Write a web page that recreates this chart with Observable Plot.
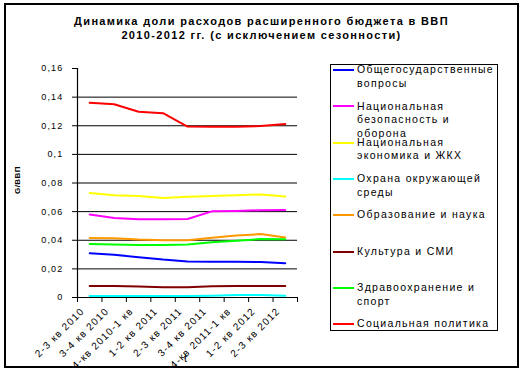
<!DOCTYPE html>
<html><head><meta charset="utf-8">
<script src="https://cdn.jsdelivr.net/npm/d3@7"></script>
<script src="https://cdn.jsdelivr.net/npm/@observablehq/plot@0.6"></script>
<style>
body{margin:0;background:#fff;}
#wrap{position:relative;width:523px;height:371px;overflow:hidden;font-family:"Liberation Sans",Arial,sans-serif;}
#border{position:absolute;left:4px;top:3px;width:515px;height:365px;border:2px solid #000;box-sizing:border-box;}
#title{position:absolute;left:0;width:523px;top:14px;text-align:center;font-weight:bold;font-size:11px;line-height:14px;letter-spacing:1.35px;}
#ylab{position:absolute;left:17px;top:180px;transform:translate(-50%,-50%) rotate(-90deg);font-weight:bold;font-size:8px;letter-spacing:0.4px;white-space:nowrap;}
#xlab{position:absolute;left:184px;top:352px;font-size:11px;z-index:2;}
.entry{position:absolute;left:357px;font-size:10.5px;line-height:13.5px;letter-spacing:1.3px;white-space:pre;}
.swatch{position:absolute;left:333px;width:21px;height:2px;}
#legend{position:absolute;left:330px;top:64px;width:168px;height:267px;border:1px solid #000;box-sizing:border-box;}
svg{position:absolute;left:0;top:0;}
</style></head>
<body><div id="wrap"><div id="border"></div><div id="title"></div><div id="ylab"></div><div id="legend"></div><div id="xlab"></div></div>
<script>
const titleLines = ["Динамика доли расходов расширенного бюджета в ВВП", "2010-2012 гг. (с исключением сезонности)"];
const yLabel = "G/ВВП";
const xLabel = "t";
const categories = ["2-3 кв 2010","3-4 кв 2010","4-кв 2010-1 кв","1-2 кв 2011","2-3 кв 2011","3-4 кв 2011","4-кв 2011-1 кв","1-2 кв 2012","2-3 кв 2012"];
const yTicks = [0, 0.02, 0.04, 0.06, 0.08, 0.1, 0.12, 0.14, 0.16];
const gridTicks = [0.02, 0.04, 0.06, 0.08, 0.1, 0.12, 0.14];

const seriesNames = ["Общегосударственные вопросы","Национальная безопасность и оборона","Национальная экономика и ЖКХ","Охрана окружающей среды","Образование и наука","Культура и СМИ","Здравоохранение и спорт","Социальная политика"];
const legendLabels = ["Общегосударственные\nвопросы","Национальная\nбезопасность и\nоборона","Национальная\nэкономика и ЖКХ","Охрана окружающей\nсреды","Образование и наука","Культура и СМИ","Здравоохранение и\nспорт","Социальная политика"];
const colors = ["#0000FF","#FF00FF","#FFFF00","#00FFFF","#FF9900","#800000","#00FF00","#FF0000"];

const general   = [0.031, 0.0298, 0.0282, 0.0265, 0.0252, 0.025, 0.025, 0.0248, 0.024];
const defense   = [0.058, 0.0555, 0.0547, 0.0547, 0.0548, 0.0602, 0.0605, 0.061, 0.0611];
const economy   = [0.073, 0.0715, 0.071, 0.0695, 0.0704, 0.071, 0.0715, 0.072, 0.0706];
const ecology   = [0.001, 0.001, 0.001, 0.001, 0.001, 0.0013, 0.0017, 0.0017, 0.0012];
const education = [0.0415, 0.0414, 0.0405, 0.040, 0.040, 0.0418, 0.0433, 0.0443, 0.042];
const culture   = [0.008, 0.008, 0.0076, 0.0072, 0.0072, 0.0078, 0.008, 0.008, 0.008];
const health    = [0.0374, 0.037, 0.0367, 0.0367, 0.037, 0.0386, 0.0397, 0.0408, 0.0407];
const social    = [0.136, 0.135, 0.1298, 0.1288, 0.1194, 0.1193, 0.1193, 0.1198, 0.1212];
const seriesValues = [general, defense, economy, ecology, education, culture, health, social];

const rows = [];
seriesValues.forEach((vals, s) => vals.forEach((v, i) => rows.push({series: seriesNames[s], i, v})));
const boundaries = d3.range(-0.5, categories.length, 1);

document.getElementById("title").innerHTML = titleLines.join("<br>");
document.getElementById("ylab").textContent = yLabel;
document.getElementById("xlab").textContent = xLabel;

const chart = Plot.plot({
  width: 523, height: 371,
  marginLeft: 77, marginRight: 226, marginTop: 68, marginBottom: 74,
  style: {fontFamily: "Liberation Sans, Arial, sans-serif", fontSize: "9px", letterSpacing: "1.2px", background: "transparent", overflow: "visible"},
  x: {type: "linear", domain: [-0.5, categories.length - 0.5]},
  y: {domain: [0, 0.16]},
  color: {domain: seriesNames, range: colors},
  marks: [
    Plot.ruleY(gridTicks, {stroke: "#000", strokeWidth: 1}),
    Plot.ruleY([0], {stroke: "#000", strokeWidth: 1.2}),
    Plot.ruleX([-0.5], {stroke: "#000", strokeWidth: 1.2}),
    Plot.axisY({ticks: yTicks, tickSize: 5, tickPadding: 9, stroke: "#000", tickFormat: d => String(d).replace(".", ","), label: null, fill: "#000"}),
    Plot.axisX({ticks: boundaries, tickSize: 5, tickFormat: () => "", label: null, stroke: "#000"}),
    Plot.text(categories, {x: (d, i) => i, y: () => 0, text: d => d, rotate: -45, textAnchor: "end", lineAnchor: "middle", dx: -7, dy: 12, fill: "#000", fontSize: 10, letterSpacing: "0.9px"}),
    Plot.line(rows, {x: "i", y: "v", z: "series", stroke: "series", strokeWidth: 2, curve: "linear"})
  ]
});
document.getElementById("wrap").appendChild(chart);

const wrap = document.getElementById("wrap");
legendLabels.forEach((lab, k) => {
  const cy = 70 + k * 36.3;
  const sw = document.createElement("div");
  sw.className = "swatch"; sw.style.top = (cy - 1) + "px"; sw.style.background = colors[k];
  wrap.appendChild(sw);
  const t = document.createElement("div");
  t.className = "entry"; t.style.top = (cy - 6.75) + "px"; t.textContent = lab;
  wrap.appendChild(t);
});
</script></body></html>
